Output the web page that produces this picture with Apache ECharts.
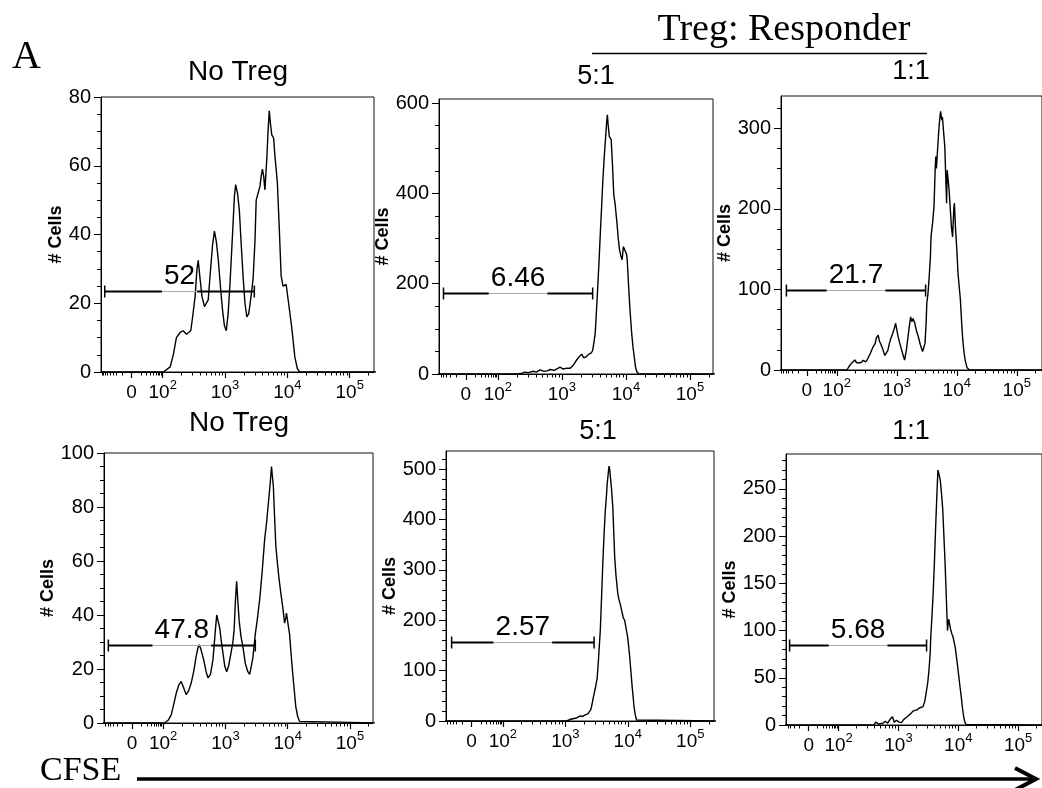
<!DOCTYPE html>
<html>
<head>
<meta charset="utf-8">
<script src="https://cdn.jsdelivr.net/npm/echarts@6/dist/echarts.min.js"></script>
<style>
  html, body { margin: 0; padding: 0; background: #fff; }
  #main { width: 1042px; height: 788px; }
</style>
</head>
<body>
<div id="main"></div>
<script>
// CFSE position on the display axis (2 = 10^2, 3 = 10^3 ...; 1.5 = 0), cell count
var noTregA = [[1.0,0],[2.01,0],[2.12,1.5],[2.17,5],[2.22,10],[2.28,11.5],[2.33,12],[2.38,11],[2.41,10.7],[2.45,12],[2.48,16],[2.52,22],[2.55,30],[2.57,32.5],[2.60,27],[2.63,22],[2.67,19],[2.70,18.5],[2.73,21],[2.76,28],[2.80,37],[2.83,41],[2.86,38],[2.89,33],[2.93,24],[2.96,18],[2.99,13.5],[3.02,12],[3.05,17],[3.08,25.8],[3.12,40],[3.15,51],[3.17,54.5],[3.20,52],[3.23,47],[3.26,37],[3.29,27.7],[3.32,20],[3.35,16],[3.38,17],[3.41,21],[3.45,27],[3.48,38],[3.50,50],[3.53,52],[3.56,54],[3.58,57],[3.60,59],[3.62,57],[3.64,53],[3.67,62],[3.69,70],[3.71,76],[3.73,72],[3.75,69],[3.78,68],[3.80,63],[3.84,55],[3.87,42],[3.90,28],[3.93,25],[3.95,25.5],[3.98,25.5],[4.02,20],[4.07,13],[4.12,4.4],[4.16,1],[4.20,0],[5.5,0]];
var ratio51A = [[1.0,0],[2.27,0],[2.30,2],[2.36,1],[2.42,4],[2.48,3],[2.55,6],[2.60,4],[2.66,9],[2.72,6],[2.77,7],[2.82,10],[2.88,8],[2.93,12],[2.97,15],[3.02,11],[3.08,13],[3.13,12.6],[3.18,20],[3.23,31],[3.27,38],[3.31,44],[3.34,36],[3.38,38],[3.42,44],[3.46,47],[3.48,52],[3.50,70],[3.52,90],[3.54,140],[3.56,194],[3.58,250],[3.60,312],[3.62,370],[3.64,430],[3.66,478],[3.68,519],[3.70,560],[3.71,574],[3.72,555],[3.74,526],[3.76,522],[3.77,519],[3.79,463],[3.80,430],[3.81,397],[3.83,378],[3.86,334],[3.88,300],[3.90,275],[3.92,262],[3.94,253],[3.96,282],[3.98,278],[3.99,286],[4.01,265],[4.02,253],[4.04,200],[4.06,149],[4.09,90],[4.11,60],[4.13,38],[4.15,15],[4.17,5],[4.20,0],[5.5,0]];
var ratio11A = [[1.0,0],[2.17,0],[2.20,4],[2.24,8],[2.27,10],[2.30,12.4],[2.33,9],[2.36,11],[2.40,9],[2.44,12],[2.48,10],[2.51,13],[2.54,18],[2.56,20.7],[2.60,28],[2.64,33],[2.66,40],[2.68,38],[2.69,43.4],[2.71,36],[2.74,31],[2.77,25],[2.80,18],[2.82,16.5],[2.85,24],[2.88,34],[2.90,39],[2.93,45],[2.96,52],[2.98,58],[3.00,50],[3.02,42],[3.05,33],[3.08,25],[3.11,17],[3.13,12.4],[3.16,25],[3.18,37],[3.21,55],[3.23,66],[3.25,60],[3.27,64],[3.30,58],[3.33,48],[3.36,41],[3.39,32],[3.43,23],[3.45,28],[3.47,33],[3.49,60],[3.50,83],[3.52,95],[3.54,116],[3.56,140],[3.57,165],[3.60,185],[3.62,203],[3.64,250],[3.65,265],[3.66,250],[3.67,262],[3.70,298],[3.72,315],[3.73,321],[3.75,310],[3.76,314],[3.78,312],[3.80,277],[3.82,230],[3.83,207],[3.84,248],[3.85,248],[3.87,225],[3.88,223],[3.90,190],[3.91,178],[3.93,165],[3.95,200],[3.96,207],[3.98,174],[4.00,150],[4.02,120],[4.06,87],[4.08,60],[4.10,37],[4.12,22],[4.14,12],[4.17,3],[4.19,1],[4.21,0],[5.5,0]];
var noTregB = [[1.0,0],[2.02,0],[2.08,1],[2.13,3],[2.17,7],[2.21,11],[2.25,14],[2.29,15.4],[2.33,13],[2.37,10.5],[2.41,12],[2.45,14.8],[2.49,19],[2.53,24.7],[2.56,28],[2.58,29],[2.61,27],[2.65,23.5],[2.69,19],[2.72,16.7],[2.76,18],[2.80,23.5],[2.83,32],[2.86,40],[2.88,38],[2.91,35],[2.93,31],[2.96,26],[2.99,21],[3.02,19],[3.05,21],[3.09,26],[3.12,30],[3.14,34.6],[3.16,45],[3.18,52.5],[3.20,45],[3.22,38],[3.25,32],[3.28,28.4],[3.32,22],[3.36,19],[3.39,18],[3.41,18.5],[3.44,24],[3.48,33],[3.51,38],[3.55,45.7],[3.59,56],[3.63,68],[3.66,74],[3.68,79],[3.70,84],[3.72,89],[3.74,95],[3.76,90],[3.77,87.7],[3.79,76],[3.81,65.4],[3.84,58],[3.86,53.7],[3.89,48],[3.92,43],[3.95,37],[3.97,39],[3.98,40.7],[4.01,36],[4.03,33],[4.06,24],[4.08,18.5],[4.11,11],[4.13,6],[4.16,2.5],[4.19,0.6],[4.22,0],[5.5,0]];
var ratio51B = [[1.0,0],[2.90,0],[2.93,1],[2.95,0],[3.02,0],[3.06,2],[3.10,4],[3.14,5],[3.18,6],[3.21,8],[3.24,10],[3.28,9],[3.32,12],[3.36,14],[3.38,15],[3.41,23],[3.43,35],[3.45,48],[3.48,65],[3.51,85],[3.53,120],[3.56,180],[3.58,245],[3.60,313],[3.62,370],[3.64,418],[3.66,450],[3.67,471],[3.69,495],[3.70,506],[3.71,500],[3.72,498],[3.74,460],[3.76,425],[3.78,360],[3.79,326],[3.81,290],[3.84,253],[3.86,240],[3.88,232],[3.90,220],[3.93,204],[3.95,200],[3.98,197],[4.00,165],[4.03,128],[4.05,98],[4.07,68],[4.09,42],[4.10,28],[4.12,12],[4.14,2],[4.16,0],[5.5,0]];
var ratio11B = [[1.0,0],[2.59,0],[2.62,3],[2.64,3.5],[2.67,1],[2.70,2.5],[2.74,1.8],[2.78,4],[2.82,2],[2.86,6],[2.90,8.8],[2.93,3],[2.97,5],[3.01,3],[3.05,2.5],[3.09,6],[3.13,8],[3.17,10],[3.21,12.3],[3.25,15],[3.28,13],[3.31,16],[3.35,18],[3.38,16],[3.41,19.4],[3.44,25],[3.47,37],[3.49,45],[3.51,58],[3.53,75],[3.54,93],[3.56,115],[3.58,139],[3.60,170],[3.62,206],[3.64,240],[3.66,270],[3.68,265],[3.70,259],[3.72,245],[3.74,229],[3.76,200],[3.78,171],[3.80,135],[3.82,100],[3.84,112],[3.85,113],[3.87,102],[3.89,97],[3.91,94],[3.93,92],[3.95,82],[3.97,72],[3.99,62],[4.01,51],[4.03,40],[4.05,30],[4.07,18],[4.09,9],[4.11,3],[4.13,0.7],[4.15,0],[5.5,0]];

var panelTitles = ['No Treg', '5:1', '1:1', 'No Treg', '5:1', '1:1'];
var curves = [noTregA, ratio51A, ratio11A, noTregB, ratio51B, ratio11B];

// gates: start, end, level, percent
var gateStart = [1.07, 1.15, 1.16, 1.12, 1.18, 1.18];
var gateEnd   = [3.47, 3.48, 3.48, 3.48, 3.46, 3.47];
var gateLevel = [23.5, 179, 99.3, 29, 156, 84.6];
var gatePct   = [52, 6.46, 21.7, 47.8, 2.57, 5.68];

// axes
var xTickVals = [1.5, 2, 3, 4, 5];
var xTickExp  = ['', '2', '3', '4', '5'];
var yMax      = [80, 609, 340, 100, 536, 287];
var yStep     = [20, 200, 100, 20, 100, 50];
var yMinor    = [5, 50, 25, 5, 20, 10];

// layout of the six boxes
var boxes = [
  {left: 101, top: 97,  width: 273, height: 275, xmin: 1.01, xmax: 5.39, gap: 33},
  {left: 439, top: 99,  width: 274, height: 275, xmin: 1.08, xmax: 5.36, gap: 38},
  {left: 781, top: 96,  width: 280, height: 274, xmin: 1.07, xmax: 5.42, gap: 43},
  {left: 104, top: 453, width: 269, height: 270, xmin: 1.05, xmax: 5.37, gap: 41},
  {left: 446, top: 451, width: 268, height: 270, xmin: 1.09, xmax: 5.38, gap: 41},
  {left: 786, top: 454, width: 275, height: 271, xmin: 1.12, xmax: 5.40, gap: 43}
];
var titlePos = [[238, 72], [596, 77], [911, 72], [239, 423], [598, 432], [911, 432]];

var SANS = '"Liberation Sans", Arial, sans-serif';
var SERIF = '"Liberation Serif", "Times New Roman", serif';
var GATE_FONT = '28px ' + SANS;

// minor ticks of the CFSE axis
var xMinorVals = [];
for (var k = 2; k <= 9; k++) {
  xMinorVals.push(1.5 + 0.5 * Math.log10(k));
  xMinorVals.push(1.5 - 0.5 * Math.log10(k));
  for (var n = 2; n <= 5; n++) xMinorVals.push(n + Math.log10(k));
}

var measureCtx = document.createElement('canvas').getContext('2d');
function textWidth(t, font) {
  measureCtx.font = font;
  return measureCtx.measureText(t).width;
}

function renderGate(params, api) {
  var lvl = api.value(2);
  var a = api.coord([api.value(0), lvl]);
  var b = api.coord([api.value(1), lvl]);
  var txt = String(api.value(3));
  var w = textWidth(txt, GATE_FONT) + 4;
  var mid = (a[0] + b[0]) / 2;
  var y = Math.round(a[1]) + 0.5;
  var st = {stroke: '#000', lineWidth: 2};
  return {
    type: 'group',
    children: [
      {type: 'line', shape: {x1: a[0], y1: y, x2: mid - w / 2, y2: y}, style: st},
      {type: 'line', shape: {x1: mid + w / 2, y1: y, x2: b[0], y2: y}, style: st},
      {type: 'line', shape: {x1: mid - w / 2, y1: y, x2: mid + w / 2, y2: y}, style: {stroke: '#aaa', lineWidth: 1}},
      {type: 'line', shape: {x1: a[0], y1: y - 6, x2: a[0], y2: y + 6}, style: {stroke: '#000', lineWidth: 1.5}},
      {type: 'line', shape: {x1: b[0], y1: y - 6, x2: b[0], y2: y + 6}, style: {stroke: '#000', lineWidth: 1.5}},
      {type: 'text', x: mid, y: y - 1,
       style: {text: txt, font: GATE_FONT, fill: '#000', align: 'center', verticalAlign: 'bottom'}}
    ]
  };
}

var myChart = echarts.init(document.getElementById('main'));
var grid = [], xAxis = [], yAxis = [], series = [], graphic = [];

for (var i = 0; i < 6; i++) {
  var b = boxes[i];
  grid.push({left: b.left, top: b.top, width: b.width, height: b.height,
    show: true, borderColor: '#111', borderWidth: 1, backgroundColor: 'transparent'});

  var minors = xMinorVals.filter(function (v) { return v > b.xmin && v < b.xmax; });
  xAxis.push({
    gridIndex: i, type: 'value', min: b.xmin, max: b.xmax, position: 'bottom',
    axisLine: {show: true, onZero: false, lineStyle: {color: '#000', width: 1}},
    axisTick: {show: true, customValues: xTickVals, length: 6, lineStyle: {color: '#000', width: 1.2}},
    axisLabel: {
      customValues: xTickVals, margin: 7, color: '#000', fontSize: 19, fontFamily: SANS,
      formatter: function (v) {
        var idx = xTickVals.indexOf(v);
        if (idx <= 0) return '{n|0}';
        return '{n|10}{p|' + xTickExp[idx] + '}';
      },
      rich: {
        n: {fontSize: 19, fontFamily: SANS, color: '#000', lineHeight: 28},
        p: {fontSize: 13, fontFamily: SANS, color: '#000', padding: [0, 0, 15, 0]}
      }
    },
    splitLine: {show: false}
  });
  xAxis.push({
    gridIndex: i, type: 'value', min: b.xmin, max: b.xmax, position: 'bottom', offset: 0,
    axisLine: {show: false, onZero: false},
    axisTick: {show: true, customValues: minors, length: 3.5, lineStyle: {color: '#000'}},
    axisLabel: {show: false},
    splitLine: {show: false}
  });

  var majorY = [], minorY = [];
  for (var v = 0; v <= yMax[i] + 1e-9; v += yMinor[i]) {
    if (v % yStep[i] === 0) majorY.push(v); else minorY.push(v);
  }
  yAxis.push({
    gridIndex: i, type: 'value', min: 0, max: yMax[i], position: 'left',
    name: '# Cells', nameLocation: 'middle', nameGap: b.gap,
    nameTextStyle: {fontFamily: SANS, fontWeight: 'bold', fontSize: 18, color: '#000'},
    axisLine: {show: true, onZero: false, lineStyle: {color: '#000', width: 1}},
    axisTick: {show: true, customValues: majorY, length: 7, lineStyle: {color: '#000'}},
    axisLabel: {customValues: majorY, margin: 10, fontSize: 20, fontFamily: SANS, color: '#000'},
    splitLine: {show: false}
  });
  yAxis.push({
    gridIndex: i, type: 'value', min: 0, max: yMax[i], position: 'left', offset: 0,
    axisLine: {show: false, onZero: false},
    axisTick: {show: true, customValues: minorY, length: 4, lineStyle: {color: '#000'}},
    axisLabel: {show: false},
    splitLine: {show: false}
  });

  series.push({
    type: 'line', xAxisIndex: 2 * i, yAxisIndex: 2 * i, data: curves[i],
    symbol: 'none', showSymbol: false, clip: true,
    lineStyle: {color: '#000', width: 1.4}
  });
  series.push({
    type: 'custom', xAxisIndex: 2 * i, yAxisIndex: 2 * i,
    dimensions: ['from', 'to', 'level', 'pct'],
    encode: {x: [0, 1], y: 2},
    data: [[gateStart[i], gateEnd[i], gateLevel[i], gatePct[i]]],
    renderItem: renderGate, z: 5
  });

  graphic.push({type: 'text', x: titlePos[i][0], y: titlePos[i][1],
    style: {text: panelTitles[i], font: (i % 3 === 0 ? '28px ' : '27px ') + SANS,
            fill: '#000', align: 'center', verticalAlign: 'middle'}});
}

graphic.push(
  {type: 'text', x: 12, y: 57, style: {text: 'A', font: '40px ' + SERIF, fill: '#000', align: 'left', verticalAlign: 'middle'}},
  {type: 'text', x: 784, y: 30, style: {text: 'Treg: Responder', font: '38px ' + SERIF, fill: '#000', align: 'center', verticalAlign: 'middle'}},
  {type: 'line', shape: {x1: 592, y1: 53.5, x2: 927, y2: 53.5}, style: {stroke: '#000', lineWidth: 1.5}},
  {type: 'text', x: 40, y: 771, style: {text: 'CFSE', font: '34px ' + SERIF, fill: '#000', align: 'left', verticalAlign: 'middle'}},
  {type: 'line', shape: {x1: 137, y1: 779, x2: 1034, y2: 779}, style: {stroke: '#000', lineWidth: 3.5}},
  {type: 'polyline', shape: {points: [[1015, 768], [1036, 779], [1015, 790]]}, style: {stroke: '#000', lineWidth: 4, fill: null}}
);

var option = {
  backgroundColor: '#fff',
  animation: false,
  grid: grid,
  xAxis: xAxis,
  yAxis: yAxis,
  series: series,
  graphic: graphic
};
myChart.setOption(option);
</script>
</body>
</html>
